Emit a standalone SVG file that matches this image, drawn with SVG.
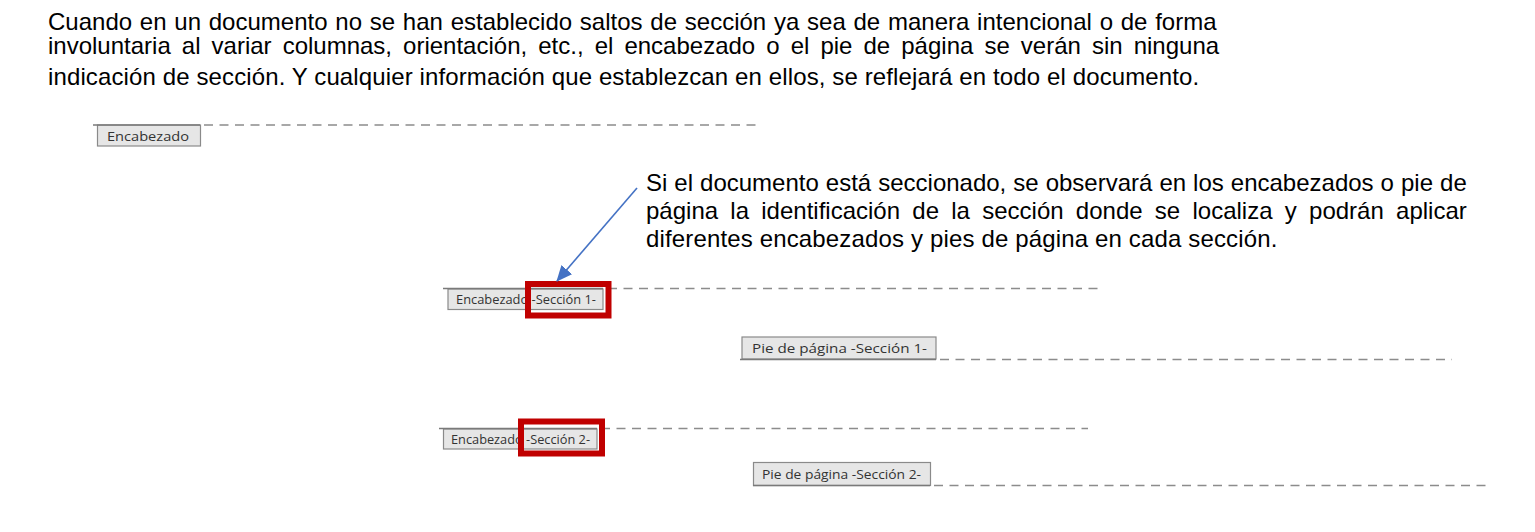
<svg xmlns="http://www.w3.org/2000/svg" width="1535" height="532" viewBox="0 0 1535 532">
<defs>
<style>
.para{font-family:"Liberation Sans",Arial,sans-serif;font-size:24px;fill:#000}
.tab{fill:#e6e6e6;stroke:#8a8a8a;stroke-width:1.2}
.tabt{font-family:"Open Sans","Noto Sans",sans-serif;font-size:12.5px;fill:#333}
.solid{stroke:#7a7a7a;stroke-width:1.3;fill:none}
.dash{stroke:#8c8c8c;stroke-width:1.5;stroke-dasharray:9 6.5;fill:none}
.red{fill:none;stroke:#c00000;stroke-width:6}
</style>
<marker id="ah" viewBox="0 0 16 14" refX="15" refY="7" markerWidth="16" markerHeight="14" orient="auto" markerUnits="userSpaceOnUse">
<path d="M0,0 L16,7 L0,14 z" fill="#4472c4"/>
</marker>
</defs>
<rect width="1535" height="532" fill="#fff"/>
<g id="texto-principal">
<text class="para" x="48" y="30" word-spacing="1.1">Cuando en un documento no se han establecido saltos de sección ya sea de manera intencional o de forma</text>
<text class="para" x="48" y="54" word-spacing="4.4">involuntaria al variar columnas, orientación, etc., el encabezado o el pie de página se verán sin ninguna</text>
<text class="para" x="48" y="85" letter-spacing="0.12">indicación de sección. Y cualquier información que establezcan en ellos, se reflejará en todo el documento.</text>
</g>
<g id="nota">
<text class="para" x="646" y="191" word-spacing="0.35">Si el documento está seccionado, se observará en los encabezados o pie de</text>
<text class="para" x="646" y="219" word-spacing="5.6">página la identificación de la sección donde se localiza y podrán aplicar</text>
<text class="para" x="646" y="247" letter-spacing="0.15">diferentes encabezados y pies de página en cada sección.</text>
</g>
<g id="encabezado">
<rect class="tab" x="97.5" y="125" width="103" height="21"/>
<line class="solid" x1="93" y1="125" x2="200" y2="125"/>
<line class="dash" x1="204" y1="125" x2="756" y2="125"/>
<text class="tabt" x="107" y="140.5" font-size="13.5" textLength="82" lengthAdjust="spacingAndGlyphs">Encabezado</text>
</g>
<g id="encabezado-seccion-1">
<rect class="tab" x="448" y="289" width="155" height="20.5"/>
<line class="solid" x1="443" y1="288.5" x2="603" y2="288.5"/>
<line class="dash" x1="608" y1="288.5" x2="1098" y2="288.5"/>
<text class="tabt" x="456" y="304" textLength="140" lengthAdjust="spacingAndGlyphs">Encabezado -Sección 1-</text>
<rect class="red" x="528" y="284" width="80.5" height="31.5"/>
</g>
<g id="pie-seccion-1">
<rect class="tab" x="742" y="337" width="194" height="22"/>
<line class="solid" x1="740" y1="359.5" x2="936" y2="359.5"/>
<line class="dash" x1="940" y1="359.5" x2="1452" y2="359.5"/>
<text class="tabt" x="752" y="353" font-size="13" textLength="175" lengthAdjust="spacingAndGlyphs">Pie de página -Sección 1-</text>
</g>
<g id="encabezado-seccion-2">
<rect class="tab" x="443.5" y="429" width="153.5" height="20"/>
<line class="solid" x1="439" y1="428.5" x2="597" y2="428.5"/>
<line class="dash" x1="601" y1="428.5" x2="1088" y2="428.5"/>
<text class="tabt" x="451" y="443.5" textLength="139" lengthAdjust="spacingAndGlyphs">Encabezado -Sección 2-</text>
<rect class="red" x="521" y="421.5" width="81" height="32"/>
</g>
<g id="pie-seccion-2">
<rect class="tab" x="753.5" y="462.5" width="177" height="23"/>
<line class="solid" x1="753" y1="485.5" x2="930" y2="485.5"/>
<line class="dash" x1="934" y1="485.5" x2="1492" y2="485.5"/>
<text class="tabt" x="762" y="479" textLength="159" lengthAdjust="spacingAndGlyphs">Pie de página -Sección 2-</text>
</g>
<g id="conectores">
<line x1="637" y1="188" x2="557" y2="281" stroke="#4472c4" stroke-width="1.6" marker-end="url(#ah)"/>
</g>
</svg>
